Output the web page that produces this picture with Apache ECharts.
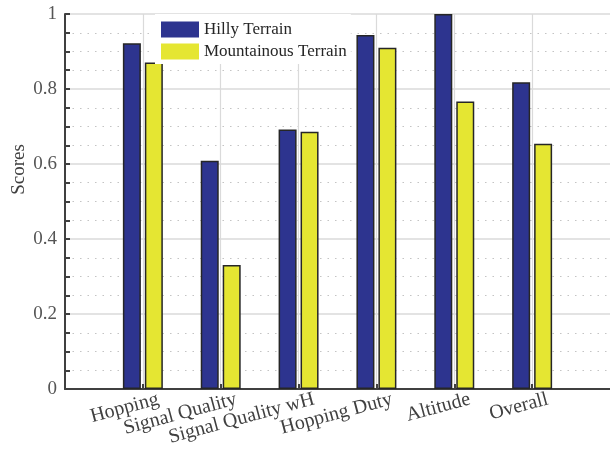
<!DOCTYPE html>
<html>
<head>
<meta charset="utf-8">
<script src="https://cdn.jsdelivr.net/npm/echarts@6/dist/echarts.min.js"></script>
<style>
  html, body { margin: 0; padding: 0; background: #fff; }
  #chart { width: 610px; height: 451px; }
</style>
</head>
<body>
<div id="chart"></div>
<script>
// Criteria scored for each terrain type
const categories = ['Hopping', 'Signal Quality', 'Signal Quality wH', 'Hopping Duty', 'Altitude', 'Overall'];
const hillyScores = [0.922, 0.609, 0.692, 0.944, 1.0, 0.818];
const mountainousScores = [0.871, 0.331, 0.686, 0.910, 0.767, 0.654];
const yTicks = [0, 0.2, 0.4, 0.6, 0.8, 1];

const FONT = '"Liberation Serif", "DejaVu Serif", serif';
const LABEL_SHIFT = 0.2; // rotated labels end slightly right of their tick

// Categories sit on integer positions 1..N of a 0..N+1 axis
const pos = categories.map((_, i) => i + 1);
const toPairs = vals => vals.map((v, i) => [pos[i], v]);

const chart = echarts.init(document.getElementById('chart'), null, { renderer: 'canvas' });
chart.setOption({
  animation: false,
  backgroundColor: '#fff',
  grid: { left: 65, right: 0, top: 14, bottom: 62, containLabel: false, outerBoundsMode: 'none' },
  legend: {
    orient: 'vertical',
    left: 155, top: 14,
    padding: [7, 4, 4, 6],
    backgroundColor: '#fff',
    itemWidth: 38, itemHeight: 16, itemGap: 5,
    icon: 'rect',
    itemStyle: { borderWidth: 0 },
    textStyle: { fontFamily: FONT, fontSize: 17, color: '#262626', padding: [0, 0, 0, 0] },
    data: ['Hilly Terrain', 'Mountainous Terrain']
  },
  xAxis: {
    type: 'value',
    min: 0, max: categories.length + 1, interval: 1,
    axisLine: { show: true, onZero: false, lineStyle: { color: '#404040', width: 2 } },
    axisTick: { show: true, inside: true, length: 5, customValues: pos, lineStyle: { color: '#404040', width: 2 } },
    axisLabel: {
      show: true,
      customValues: pos.map(p => p + LABEL_SHIFT),
      rotate: 15,
      margin: 10,
      fontFamily: FONT, fontSize: 20, color: '#404040',
      formatter: v => categories[Math.round(v - LABEL_SHIFT) - 1] || ''
    },
    splitLine: { show: true, lineStyle: { color: '#dadada', width: 1.2 } }
  },
  yAxis: {
    type: 'value',
    min: 0, max: 1, interval: 0.2,
    name: 'Scores',
    nameLocation: 'middle',
    nameGap: 36,
    nameMoveOverlap: false,
    nameTextStyle: { fontFamily: FONT, fontSize: 19, color: '#404040', padding: [0, 0, 0, 64] },
    axisLine: { show: true, lineStyle: { color: '#404040', width: 2 } },
    axisTick: { show: true, inside: true, length: 5, lineStyle: { color: '#404040', width: 2 } },
    minorTick: { show: true, splitNumber: 4, length: 5, lineStyle: { color: '#404040', width: 2 } },
    axisLabel: {
      fontFamily: FONT, fontSize: 19, color: '#555', margin: 8,
      customValues: yTicks,
      formatter: v => String(Math.round(v * 10) / 10)
    },
    splitLine: { show: true, lineStyle: { color: '#dadada', width: 1.5 } },
    minorSplitLine: { show: true, lineStyle: { color: '#c4c4c4', width: 1.2, type: [1.5, 6] } }
  },
  series: [
    {
      name: 'Hilly Terrain',
      type: 'bar',
      barWidth: 18,
      barGap: '22%',
      data: toPairs(hillyScores),
      itemStyle: { color: '#2d348f', borderColor: '#262626', borderWidth: 1.5 },
      z: 3
    },
    {
      name: 'Mountainous Terrain',
      type: 'bar',
      barWidth: 18,
      barGap: '22%',
      data: toPairs(mountainousScores),
      itemStyle: { color: '#e5e632', borderColor: '#262626', borderWidth: 1.5 },
      z: 3
    }
  ]
});
</script>
</body>
</html>
